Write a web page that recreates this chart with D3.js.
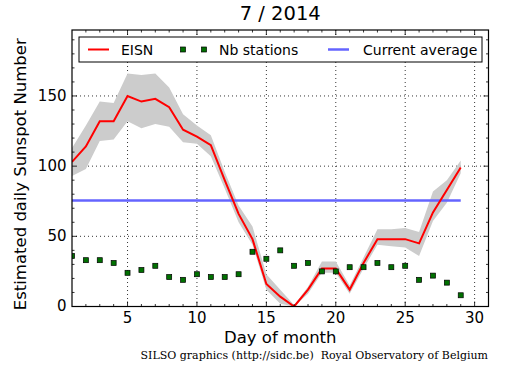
<!DOCTYPE html>
<html><head><meta charset="utf-8">
<script src="https://cdn.jsdelivr.net/npm/d3@7"></script>
<style>body{margin:0;background:#fff;} svg{display:block;}</style>
</head><body>
<svg id="chart" width="515" height="370"></svg>
<script>
const days = [1,2,3,4,5,6,7,8,9,10,11,12,13,14,15,16,17,18,19,20,21,22,23,24,25,26,27,28,29];
const eisn = [103,114,132,132,150,146,148,142,126,121,115,90,66,48,16,7,0,12,27,27,12,31,48,48,48,45,67,83,99];
const upper = [113,129,146,145,166,165,166,156,137,129,122,96,72,57,23,12,1,14,32,32,15,35,55,55,56,53,82,90,104];
const lower = [93,98,118,119,132,127,130,128,117,116,107,84,60,44,12,2,0,9,24,24,9,27,44,43,42,36,61,74,95];
const stations = [36,33,33,31,24,26,29,21,19,23,21,21,23,39,34,40,29,31,25,25,28,28,31,28,29,19,22,17,8];
const currentAverage = 75.5;
const xTicks = [5,10,15,20,25,30];
const yTicks = [0,50,100,150];
const title = "7 / 2014";
const xLabel = "Day of month";
const yLabel = "Estimated daily Sunspot Number";
const footer = "SILSO graphics (http://sidc.be)  Royal Observatory of Belgium";
const legendLabels = ["EISN","Nb stations","Current average"];

const L=72, R=488.5, T=30, B=306.5;
const svg = d3.select("#chart");
const x = d3.scaleLinear().domain([1,31]).range([L,R]);
const y = d3.scaleLinear().domain([0,197]).range([B,T]);
const font = "'DejaVu Sans', sans-serif";

svg.append("clipPath").attr("id","clip").append("rect")
  .attr("x",L).attr("y",T).attr("width",R-L).attr("height",B-T);

// grid
const grid = svg.append("g");
xTicks.forEach(t=>{ if (t>1 && t<31) grid.append("line").attr("x1",x(t)).attr("x2",x(t)).attr("y1",T).attr("y2",B)
  .attr("stroke","#000").attr("stroke-width",0.8).attr("stroke-dasharray","1,3"); });
yTicks.forEach(t=>{ if (t>0) grid.append("line").attr("x1",L).attr("x2",R).attr("y1",y(t)).attr("y2",y(t))
  .attr("stroke","#000").attr("stroke-width",0.8).attr("stroke-dasharray","1,3"); });

const plot = svg.append("g").attr("clip-path","url(#clip)");
const area = d3.area().x((d,i)=>x(days[i])).y0((d,i)=>y(lower[i])).y1((d,i)=>y(upper[i]));
plot.append("path").datum(days).attr("d",area).attr("fill","#cccccc");
plot.append("line").attr("x1",x(days[0])).attr("x2",x(days[days.length-1]))
  .attr("y1",y(currentAverage)).attr("y2",y(currentAverage))
  .attr("stroke","#6464ff").attr("stroke-width",2.5);
const line = d3.line().x((d,i)=>x(days[i])).y((d,i)=>y(eisn[i]));
plot.append("path").datum(days).attr("d",line).attr("fill","none").attr("stroke","#ff0000").attr("stroke-width",2);
plot.selectAll("rect.st").data(stations).enter().append("rect")
  .attr("x",(d,i)=>x(days[i])-2.5).attr("y",d=>y(d)-2.5).attr("width",5).attr("height",5)
  .attr("fill","#007000").attr("stroke","#000").attr("stroke-width",0.7);

svg.append("rect").attr("x",L).attr("y",T).attr("width",R-L).attr("height",B-T)
  .attr("fill","none").attr("stroke","#000").attr("stroke-width",1.2);

const tk = svg.append("g").attr("stroke","#000").attr("stroke-width",0.8);
d3.range(2,31).forEach(d=>{
  const major = xTicks.includes(d); const len = major?5:2.5;
  tk.append("line").attr("x1",x(d)).attr("x2",x(d)).attr("y1",B).attr("y2",B-len);
  tk.append("line").attr("x1",x(d)).attr("x2",x(d)).attr("y1",T).attr("y2",T+len);
});
d3.range(10,197,10).forEach(v=>{
  const major = yTicks.includes(v); const len = major?5:2.5;
  tk.append("line").attr("x1",L).attr("x2",L+len).attr("y1",y(v)).attr("y2",y(v));
  tk.append("line").attr("x1",R).attr("x2",R-len).attr("y1",y(v)).attr("y2",y(v));
});

xTicks.forEach(t=> svg.append("text").attr("x",x(t)).attr("y",323).attr("text-anchor","middle")
  .attr("font-family",font).attr("font-size",15).text(t));
yTicks.forEach(t=> svg.append("text").attr("x",66.5).attr("y",y(t)+4.8).attr("text-anchor","end")
  .attr("font-family",font).attr("font-size",15).text(t));

svg.append("text").attr("x",(L+R)/2).attr("y",20).attr("text-anchor","middle")
  .attr("font-family",font).attr("font-size",19.5).text(title);
svg.append("text").attr("x",(L+R)/2).attr("y",343).attr("text-anchor","middle")
  .attr("font-family",font).attr("font-size",16.5).text(xLabel);
svg.append("text").attr("transform",`translate(25.5,${(T+B)/2+6}) rotate(-90)`).attr("text-anchor","middle")
  .attr("font-family",font).attr("font-size",16.5).text(yLabel);
svg.append("text").attr("x",488).attr("y",359).attr("text-anchor","end").style("white-space","pre")
  .attr("font-family","'DejaVu Serif', serif").attr("font-size",11).text(footer);

const lg = svg.append("g");
lg.append("rect").attr("x",79).attr("y",37).attr("width",403).attr("height",25)
  .attr("fill","#fff").attr("stroke","#000").attr("stroke-width",1);
const ly = 49.5;
lg.append("line").attr("x1",88).attr("x2",109).attr("y1",ly).attr("y2",ly).attr("stroke","#ff0000").attr("stroke-width",2);
lg.append("text").attr("x",121).attr("y",ly+5).attr("font-family",font).attr("font-size",14).text(legendLabels[0]);
[183,204].forEach(cx=> lg.append("rect").attr("x",cx-2.5).attr("y",ly-2.5).attr("width",5).attr("height",5)
  .attr("fill","#007000").attr("stroke","#000").attr("stroke-width",0.7));
lg.append("text").attr("x",219).attr("y",ly+5).attr("font-family",font).attr("font-size",14).text(legendLabels[1]);
lg.append("line").attr("x1",328).attr("x2",349).attr("y1",ly).attr("y2",ly).attr("stroke","#6464ff").attr("stroke-width",2.5);
lg.append("text").attr("x",363).attr("y",ly+5).attr("font-family",font).attr("font-size",14).text(legendLabels[2]);
</script>
</body></html>
